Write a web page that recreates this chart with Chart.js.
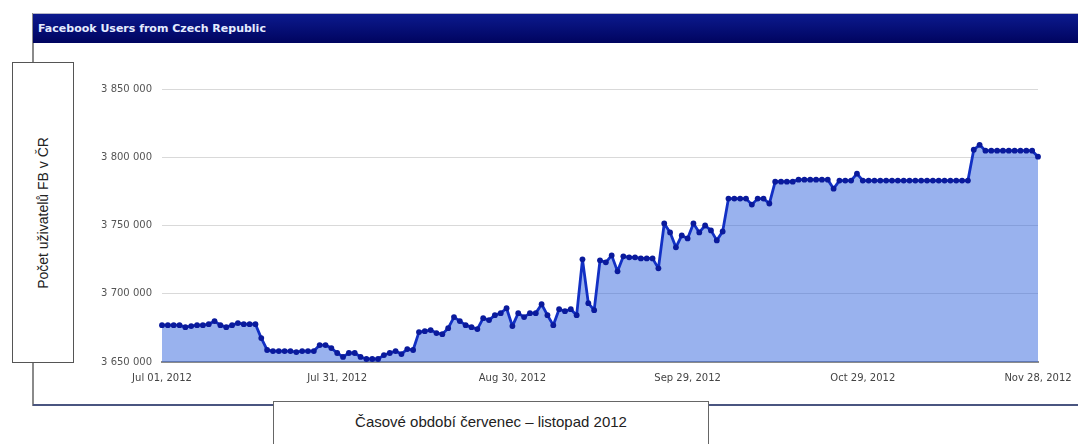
<!DOCTYPE html>
<html>
<head>
<meta charset="utf-8">
<script src="https://cdn.jsdelivr.net/npm/chart.js@4/dist/chart.umd.min.js"></script>
<style>
  html, body { margin: 0; padding: 0; background: #fff; }
  #wrap { position: relative; width: 1078px; height: 444px; overflow: hidden; }
  #usersChart { position: absolute; left: 0; top: 0; }
  #frameLeft { position: absolute; left: 32px; top: 13px; width: 2px; height: 393px; background: #8a8a8a; }
  #frameBottom { position: absolute; left: 33px; top: 404px; width: 1045px; height: 2px; background: #4a5580; }
  #titleBar {
    position: absolute; left: 33px; top: 13px; width: 1045px; height: 30px;
    background: linear-gradient(#0c1a8e, #00045f);
    border-top: 1px solid #b8b8c8; box-sizing: border-box;
    color: #e4ebff; font: bold 11px "DejaVu Sans", sans-serif;
    padding: 8px 0 0 5px;
  }
  #yBox {
    position: absolute; left: 12px; top: 62px; width: 62px; height: 301px;
    border: 1.5px solid #555; background: #fff; box-sizing: border-box;
  }
  #yBox span {
    position: absolute; left: 50%; top: 50%; white-space: nowrap;
    transform: translate(-50%, -50%) rotate(-90deg);
    font: 14px "Liberation Sans", Arial, sans-serif; color: #222;
  }
  #xBox {
    position: absolute; left: 273px; top: 401px; width: 436px; height: 60px;
    border: 1.5px solid #666; background: #fff; box-sizing: border-box;
    font: 15px "Liberation Sans", Arial, sans-serif; color: #222;
    text-align: center; padding-top: 11px;
  }
</style>
</head>
<body>
<div id="wrap">
  <canvas id="usersChart" width="1078" height="444"></canvas>
  <div id="frameLeft"></div>
  <div id="frameBottom"></div>
  <div id="titleBar">Facebook Users from Czech Republic</div>
  <div id="yBox"><span>Počet uživatelů FB v ČR</span></div>
  <div id="xBox">Časové období červenec – listopad 2012</div>
</div>
<script>
// daily FB user counts, Jul 01 - Nov 28 2012
const userCounts = [
  3677000, 3677000, 3677000, 3677000, 3675500, 3676300, 3677000, 3677000, 3677700, 3680000,
  3677000, 3675500, 3677000, 3678500, 3677700, 3677700, 3677700, 3667500, 3658800, 3658000,
  3658000, 3658000, 3658000, 3657300, 3658000, 3658000, 3658000, 3662400, 3662400, 3660200,
  3656600, 3653700, 3656600, 3656600, 3653700, 3652200, 3652200, 3652200, 3655100, 3656600,
  3658000, 3655800, 3659500, 3658800, 3671900, 3672600, 3673400, 3671200, 3670400, 3674800,
  3682900, 3680000, 3677000, 3675500, 3674100, 3682100, 3680700, 3684300, 3685800, 3689400,
  3676300, 3685800, 3682900, 3685800, 3685800, 3692300, 3684300, 3677000, 3688700, 3687200,
  3688700, 3684300, 3725200, 3693100, 3688000, 3724500, 3723000, 3728100, 3716400, 3727400,
  3726700, 3726700, 3725900, 3725900, 3725900, 3718600, 3751500, 3744900, 3734000, 3742700,
  3740500, 3751500, 3744900, 3750000, 3746400, 3739100, 3745600, 3769700, 3769700, 3769700,
  3769700, 3765300, 3769700, 3769700, 3766100, 3782100, 3782100, 3782100, 3782100, 3783600,
  3783600, 3783600, 3783600, 3783600, 3783600, 3777000, 3782900, 3782900, 3782900, 3788000,
  3782900, 3782900, 3782900, 3782900, 3782900, 3782900, 3782900, 3782900, 3782900, 3782900,
  3782900, 3782900, 3782900, 3782900, 3782900, 3782900, 3782900, 3782900, 3782900, 3805500,
  3809100, 3804800, 3804800, 3804800, 3804800, 3804800, 3804800, 3804800, 3804800, 3804800,
  3800400
];
const xTickLabels = ['Jul 01, 2012', 'Jul 31, 2012', 'Aug 30, 2012', 'Sep 29, 2012', 'Oct 29, 2012', 'Nov 28, 2012'];
const yTicks = [3650000, 3700000, 3750000, 3800000, 3850000];

// one category per day starting Jul 01 2012
const startDate = new Date(2012, 6, 1);
const dayLabels = userCounts.map((v, i) => {
    const d = new Date(startDate.getTime() + i * 86400000);
    return d.toISOString().slice(0, 10);
});

function fmtSpace(v) {
    return String(v).replace(/\B(?=(\d{3})+(?!\d))/g, ' ');
}

const ctx = document.getElementById('usersChart').getContext('2d');
const usersChart = new Chart(ctx, {
    type: 'line',
    data: {
        labels: dayLabels,
        datasets: [{
            data: userCounts,
            borderColor: '#1230c4',
            borderWidth: 2.8,
            borderJoinStyle: 'round',
            backgroundColor: 'rgba(51, 102, 221, 0.5)',
            fill: 'start',
            tension: 0,
            pointRadius: 2.9,
            pointBackgroundColor: '#0a1a9c',
            pointBorderWidth: 0
        }]
    },
    options: {
        responsive: false,
        animation: false,
        layout: { padding: { left: 0, top: 89, right: 40, bottom: 0 } },
        plugins: { legend: { display: false }, tooltip: { enabled: false } },
        scales: {
            x: {
                offset: false,
                grid: { display: false, drawTicks: false },
                border: { color: '#8c8c8c', width: 2 },
                afterFit: function(s) {
                    s.height = 82;
                    s.paddingLeft = 0;
                    s.paddingRight = 0;
                },
                ticks: {
                    autoSkip: false,
                    maxRotation: 0,
                    padding: 10,
                    color: '#444',
                    font: { family: 'DejaVu Sans', size: 10 },
                    callback: function(val, idx) {
                        return idx % 30 === 0 ? xTickLabels[idx / 30] : '';
                    }
                }
            },
            y: {
                min: yTicks[0],
                max: yTicks[yTicks.length - 1],
                afterFit: function(s) { s.width = 162; },
                afterBuildTicks: function(s) { s.ticks = yTicks.map(v => ({ value: v })); },
                grid: { color: '#d9d9d9', drawTicks: false },
                border: { display: false },
                ticks: {
                    padding: 10,
                    color: '#555',
                    font: { family: 'DejaVu Sans', size: 10 },
                    callback: function(v) { return fmtSpace(v); }
                }
            }
        }
    }
});
</script>
</body>
</html>
